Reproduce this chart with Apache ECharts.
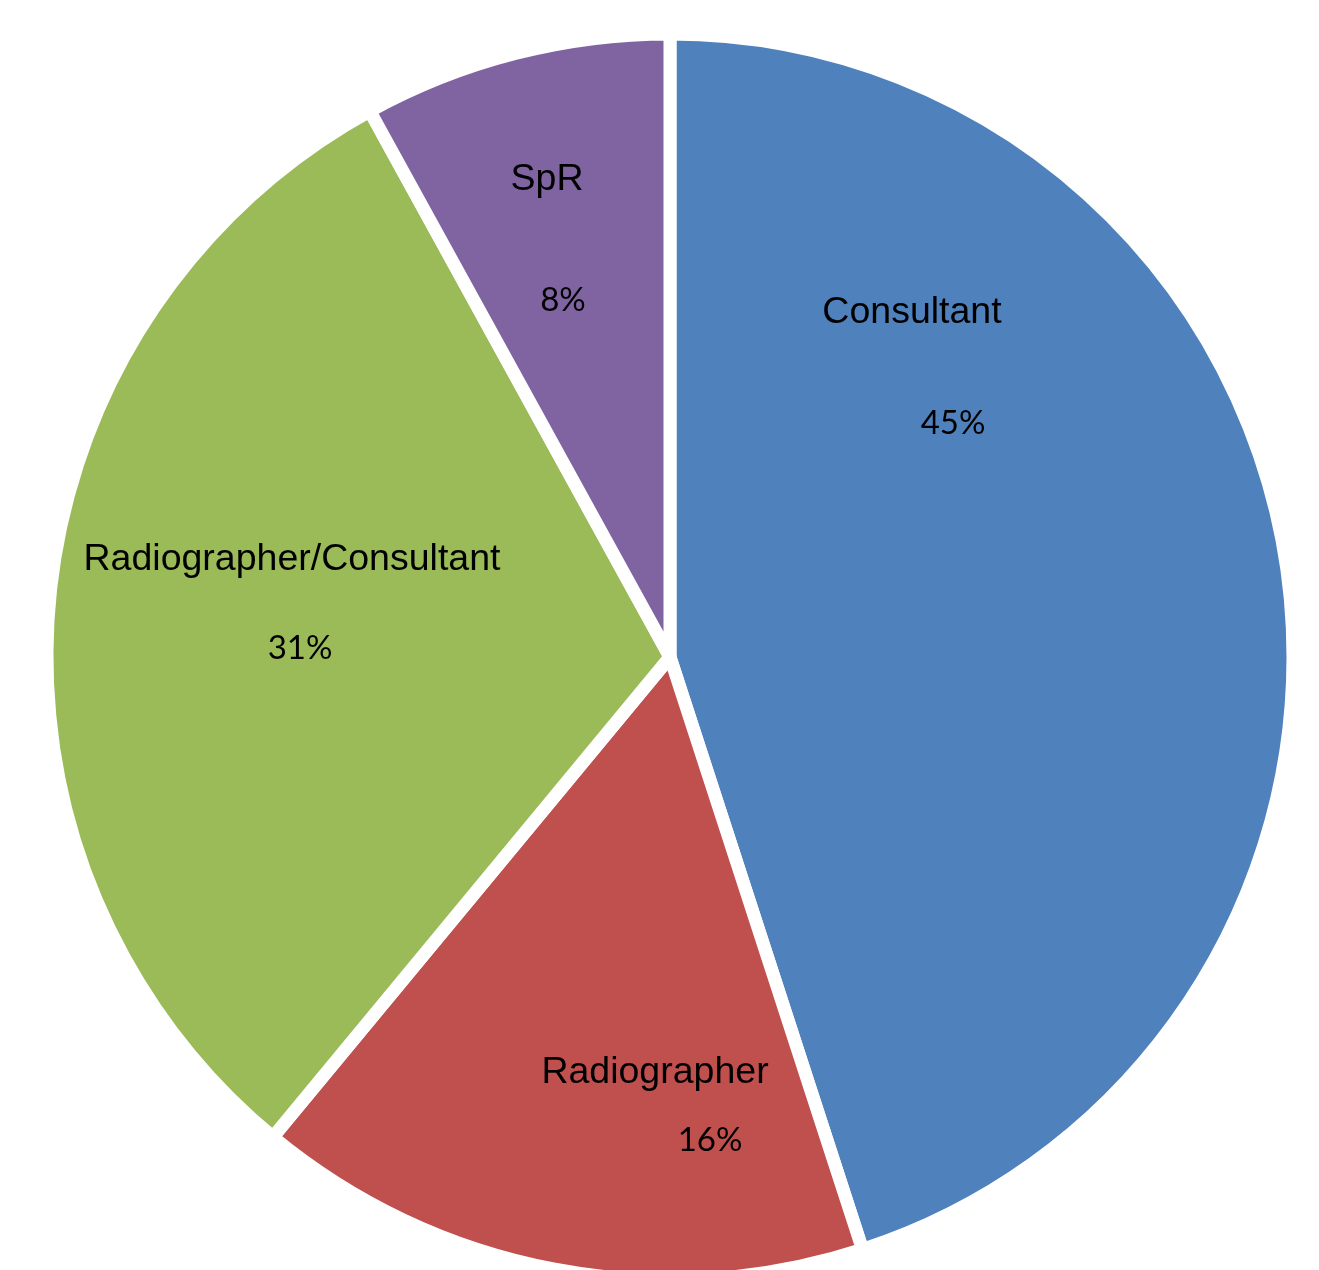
<!DOCTYPE html>
<html>
<head>
<meta charset="utf-8">
<title>Reporting roles</title>
<script src="https://cdn.jsdelivr.net/npm/echarts@6/dist/echarts.min.js"></script>
<style>
  html, body { margin: 0; padding: 0; background: #ffffff; }
  #chart { width: 1319px; height: 1270px; }
</style>
</head>
<body>
<div id="chart"></div>
<script>
// Who reports the examinations (share of total, %)
const categories = ['Consultant', 'Radiographer', 'Radiographer/Consultant', 'SpR'];
const shares = [45, 16, 31, 8];
const sliceColors = ['#4F81BD', '#C0504D', '#9BBB59', '#8064A2'];

// Where each slice's name and percentage sit on the canvas
const nameSpots = [[912, 313], [655, 1073], [292, 560], [547, 180]];
const pctSpots = [[953, 423], [710, 1140], [300, 648], [563, 300]];

const pieData = categories.map((name, i) => ({
  name: name,
  value: shares[i],
  itemStyle: { color: sliceColors[i] }
}));

const center = [670, 657];
const radius = 623;

const chart = echarts.init(document.getElementById('chart'), null, { renderer: 'canvas' });
chart.setOption({
  animation: false,
  backgroundColor: '#ffffff',
  series: [
    {
      type: 'pie',
      center: center,
      radius: radius,
      startAngle: 90,
      clockwise: true,
      data: pieData,
      itemStyle: { borderColor: '#ffffff', borderWidth: 13 },
      label: {
        show: true,
        position: 'inside',
        formatter: '{b}',
        color: '#000000',
        fontFamily: '"Liberation Sans", Arial, sans-serif',
        fontSize: 37.5
      },
      labelLine: { show: false },
      labelLayout: function (p) {
        const s = nameSpots[p.dataIndex];
        return { x: s[0], y: s[1], align: 'center', verticalAlign: 'middle' };
      },
      emphasis: { disabled: true },
      silent: true
    },
    {
      type: 'pie',
      center: center,
      radius: radius,
      startAngle: 90,
      clockwise: true,
      data: pieData.map(d => ({ name: d.name, value: d.value })),
      itemStyle: { color: 'rgba(0,0,0,0)', borderWidth: 0 },
      label: {
        show: true,
        position: 'inside',
        formatter: function (p) { return p.value + '%'; },
        color: '#000000',
        fontFamily: 'Lato, "Open Sans", sans-serif',
        fontSize: 33
      },
      labelLine: { show: false },
      labelLayout: function (p) {
        const s = pctSpots[p.dataIndex];
        return { x: s[0], y: s[1], align: 'center', verticalAlign: 'middle' };
      },
      emphasis: { disabled: true },
      silent: true
    }
  ]
});
</script>
</body>
</html>
